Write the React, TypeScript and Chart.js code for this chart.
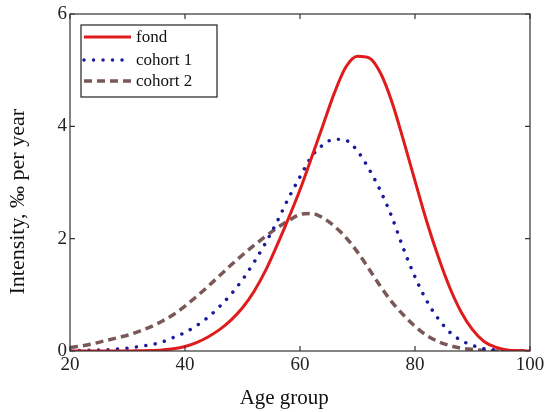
import React, { useEffect, useRef } from "react";
import { Chart, registerables } from "chart.js";

Chart.register(...registerables);

const ages = [20, 22, 24, 26, 28, 30, 32, 34, 36, 38, 40, 42, 44, 46, 48, 50, 52, 54, 56, 58, 60, 62, 64, 66, 68, 70, 72, 74, 76, 78, 80, 82, 84, 86, 88, 90, 92, 94, 96, 98, 100];
const fond = [0, 0, 0, 0, 0, 0, 0.005, 0.01, 0.02, 0.04, 0.08, 0.15, 0.25, 0.38, 0.55, 0.77, 1.06, 1.43, 1.88, 2.36, 2.87, 3.44, 4.02, 4.6, 5.06, 5.25, 5.22, 4.95, 4.43, 3.75, 3.03, 2.32, 1.69, 1.14, 0.7, 0.38, 0.17, 0.07, 0.02, 0.005, 0];
const cohort1 = [0.01, 0.01, 0.015, 0.02, 0.035, 0.05, 0.08, 0.11, 0.16, 0.24, 0.33, 0.45, 0.6, 0.79, 1.01, 1.27, 1.58, 1.92, 2.3, 2.72, 3.1, 3.46, 3.67, 3.77, 3.75, 3.56, 3.24, 2.85, 2.38, 1.82, 1.32, 0.9, 0.58, 0.34, 0.19, 0.1, 0.04, 0.02, 0.005, 0, 0];
const cohort2 = [0.06, 0.09, 0.13, 0.18, 0.23, 0.28, 0.35, 0.43, 0.53, 0.65, 0.8, 0.97, 1.15, 1.34, 1.53, 1.71, 1.88, 2.04, 2.19, 2.32, 2.43, 2.45, 2.37, 2.22, 2.02, 1.76, 1.46, 1.15, 0.87, 0.64, 0.44, 0.28, 0.17, 0.1, 0.05, 0.03, 0.01, 0, 0, 0, 0];
const seriesLabels = ["fond", "cohort 1", "cohort 2"];
const xTicks = [20, 40, 60, 80, 100];
const yTicks = [0, 2, 4, 6];
const xTitle = "Age group";
const yTitle = "Intensity, \u2030 per year";

const FONT = "'Liberation Serif', 'Times New Roman', serif";

const boxAndLegend = {
  id: "boxAndLegend",
  afterDraw(chart: any) {
    const { ctx, chartArea: a, scales } = chart;
    ctx.save();
    ctx.strokeStyle = "#333";
    ctx.lineWidth = 1.2;
    ctx.setLineDash([]);
    ctx.strokeRect(a.left, a.top, a.right - a.left, a.bottom - a.top);
    const L = 5;
    ctx.beginPath();
    scales.x.ticks.forEach((t: any) => {
      const x = scales.x.getPixelForValue(t.value);
      ctx.moveTo(x, a.bottom);
      ctx.lineTo(x, a.bottom - L);
      ctx.moveTo(x, a.top);
      ctx.lineTo(x, a.top + L);
    });
    scales.y.ticks.forEach((t: any) => {
      const y = scales.y.getPixelForValue(t.value);
      ctx.moveTo(a.left, y);
      ctx.lineTo(a.left + L, y);
      ctx.moveTo(a.right, y);
      ctx.lineTo(a.right - L, y);
    });
    ctx.stroke();

    const bx = a.left + 11;
    const by = a.top + 11;
    const bw = 136;
    const bh = 72;
    ctx.fillStyle = "#fff";
    ctx.fillRect(bx, by, bw, bh);
    ctx.strokeStyle = "#222";
    ctx.lineWidth = 1.2;
    ctx.strokeRect(bx, by, bw, bh);
    const rows = [12, 35, 56];
    chart.data.datasets.forEach((ds: any, i: number) => {
      const y = by + rows[i];
      ctx.beginPath();
      ctx.strokeStyle = ds.borderColor;
      ctx.lineWidth = ds.borderWidth;
      ctx.lineCap = ds.borderCapStyle || "butt";
      ctx.setLineDash(ds.borderDash || []);
      ctx.moveTo(bx + 3, y);
      ctx.lineTo(bx + 50, y);
      ctx.stroke();
      ctx.setLineDash([]);
      ctx.fillStyle = "#111";
      ctx.font = `17px ${FONT}`;
      ctx.textBaseline = "middle";
      ctx.textAlign = "left";
      ctx.fillText(ds.label, bx + 55, y + 1);
    });
    ctx.restore();
  },
};

export default function App() {
  const ref = useRef<HTMLCanvasElement | null>(null);
  useEffect(() => {
    document.body.style.margin = "0";
    const canvas = ref.current;
    if (!canvas) return;
    const mk = (vals: number[]) => ages.map((x, i) => ({ x, y: vals[i] }));
    const chart = new Chart(canvas, {
      type: "line",
      data: {
        datasets: [
          {
            label: seriesLabels[0],
            data: mk(fond),
            borderColor: "#e01b1b",
            borderWidth: 3,
            pointRadius: 0,
            cubicInterpolationMode: "monotone",
            fill: false,
          },
          {
            label: seriesLabels[1],
            data: mk(cohort1),
            borderColor: "#1a1a9c",
            borderWidth: 3.5,
            borderDash: [0.01, 9.5],
            borderCapStyle: "round",
            pointRadius: 0,
            cubicInterpolationMode: "monotone",
            fill: false,
          },
          {
            label: seriesLabels[2],
            data: mk(cohort2),
            borderColor: "#7a5858",
            borderWidth: 3.5,
            borderDash: [8, 5],
            pointRadius: 0,
            cubicInterpolationMode: "monotone",
            fill: false,
          },
        ],
      } as any,
      options: {
        responsive: false,
        animation: false,
        layout: { padding: { top: 14, right: 20, left: 0, bottom: 0 } },
        plugins: { legend: { display: false }, tooltip: { enabled: false } },
        scales: {
          x: {
            type: "linear",
            min: 20,
            max: 100,
            afterBuildTicks: (s: any) => {
              s.ticks = xTicks.map((v) => ({ value: v }));
            },
            ticks: {
              font: { family: FONT, size: 19 },
              color: "#222",
              padding: 3,
              maxRotation: 0,
              autoSkip: false,
            },
            grid: { display: false, drawTicks: false },
            border: { display: false },
            title: {
              display: true,
              text: xTitle + "\u00a0\u00a0\u00a0\u00a0\u00a0\u00a0",
              font: { family: FONT, size: 21 },
              color: "#111",
              padding: { top: 0, bottom: 1 },
            },
            afterFit: (s: any) => {
              s.height = 61;
              s.paddingLeft = 0;
              s.paddingRight = 0;
            },
          },
          y: {
            type: "linear",
            min: 0,
            max: 6,
            afterBuildTicks: (s: any) => {
              s.ticks = yTicks.map((v) => ({ value: v }));
            },
            ticks: {
              font: { family: FONT, size: 19 },
              color: "#222",
              padding: 3,
            },
            grid: { display: false, drawTicks: false },
            border: { display: false },
            title: {
              display: true,
              text: yTitle + "\u00a0\u00a0\u00a0\u00a0\u00a0\u00a0\u00a0",
              font: { family: FONT, size: 22 },
              color: "#111",
              padding: { top: 5, bottom: 0 },
            },
            afterFit: (s: any) => {
              s.width = 70;
              s.paddingTop = 0;
              s.paddingBottom = 0;
            },
          },
        },
      } as any,
      plugins: [boxAndLegend],
    });
    return () => chart.destroy();
  }, []);
  return (
    <div style={{ position: "absolute", left: 0, top: 0, width: 550, height: 412, background: "#fff" }}>
      <canvas ref={ref} width={550} height={412} />
    </div>
  );
}
